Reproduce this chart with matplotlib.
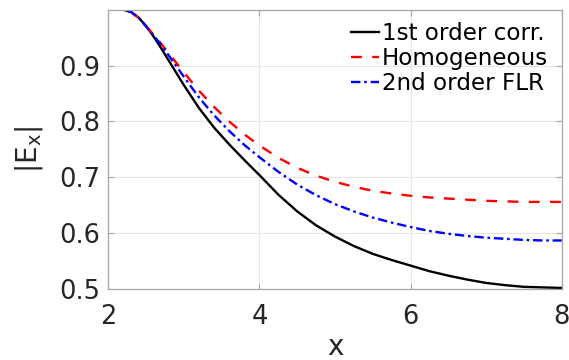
"""|E_x| versus x for three field models."""

import matplotlib

matplotlib.use("Agg")
import matplotlib.pyplot as plt

x_vals = [2.0, 2.1, 2.2, 2.3, 2.4, 2.5, 2.6, 2.7, 2.8, 2.9, 3.0,
          3.2, 3.4, 3.6, 3.8, 4.0, 4.25, 4.5, 4.75, 5.0, 5.25, 5.5, 5.75,
          6.0, 6.25, 6.5, 6.75, 7.0, 7.25, 7.5, 7.75, 8.0]
first_order = [1.0, 1.0, 1.0, 0.996, 0.986, 0.971, 0.952, 0.931, 0.909,
               0.887, 0.865, 0.824, 0.789, 0.759, 0.731, 0.704, 0.669,
               0.639, 0.614, 0.594, 0.577, 0.563, 0.552, 0.542, 0.532,
               0.524, 0.517, 0.511, 0.507, 0.504, 0.503, 0.502]
homogeneous = [1.0, 1.0, 1.0, 0.996, 0.986, 0.971, 0.955, 0.939, 0.922,
               0.905, 0.888, 0.855, 0.826, 0.800, 0.777, 0.757, 0.735,
               0.717, 0.703, 0.692, 0.683, 0.676, 0.671, 0.667, 0.664,
               0.662, 0.660, 0.658, 0.657, 0.656, 0.656, 0.656]
second_flr = [1.0, 1.0, 1.0, 0.996, 0.986, 0.970, 0.954, 0.937, 0.918,
              0.899, 0.880, 0.843, 0.811, 0.783, 0.758, 0.736, 0.710,
              0.687, 0.668, 0.652, 0.639, 0.628, 0.619, 0.611, 0.604,
              0.599, 0.595, 0.592, 0.590, 0.588, 0.587, 0.587]

labels = ["1st order corr.", "Homogeneous", "2nd order FLR"]
x_ticks = [2, 4, 6, 8]
y_ticks = [0.5, 0.6, 0.7, 0.8, 0.9]

plt.rcParams["font.family"] = "DejaVu Sans"

fig = plt.figure(figsize=(5.69, 3.6), dpi=100)
ax = fig.add_axes([0.1903, 0.197, 0.797, 0.776])

lw = 1.7
ax.plot(x_vals, first_order, "-", color="black", linewidth=lw, label=labels[0])
ax.plot(x_vals, homogeneous, "--", color="red", linewidth=lw,
        dashes=(4.6, 4.4), label=labels[1])
ax.plot(x_vals, second_flr, "-.", color="blue", linewidth=lw,
        dashes=(4.0, 1.6, 1.1, 1.6), label=labels[2])

ax.set_xlim(2, 8)
ax.set_ylim(0.5, 1.0)
ax.set_xticks(x_ticks)
ax.set_yticks(y_ticks)
ax.set_yticklabels(["%.1f" % v for v in y_ticks])
ax.grid(True, color="#e6e6e6", linewidth=0.8)
ax.set_axisbelow(True)

for s in ax.spines.values():
    s.set_color("#a6a6a6")
    s.set_linewidth(0.9)
ax.tick_params(direction="in", length=4, width=0.8, color="#a6a6a6",
               labelsize=18.5, labelcolor="#262626", top=True, right=True)
ax.tick_params(axis="x", pad=11)
ax.tick_params(axis="y", pad=6)

ax.set_xlabel("x", fontsize=20, color="#262626", labelpad=2)
ax.set_ylabel(r"|E$_\mathregular{x}$|", fontsize=20, color="#262626",
              labelpad=10)

ax.legend(loc="upper right", bbox_to_anchor=(0.99, 0.99), fontsize=16.6,
          frameon=False, handlelength=1.2, handletextpad=0.13,
          labelspacing=0.1, borderaxespad=0.0, borderpad=0.4)

fig.savefig("out.png", dpi=100)
plt.close(fig)
